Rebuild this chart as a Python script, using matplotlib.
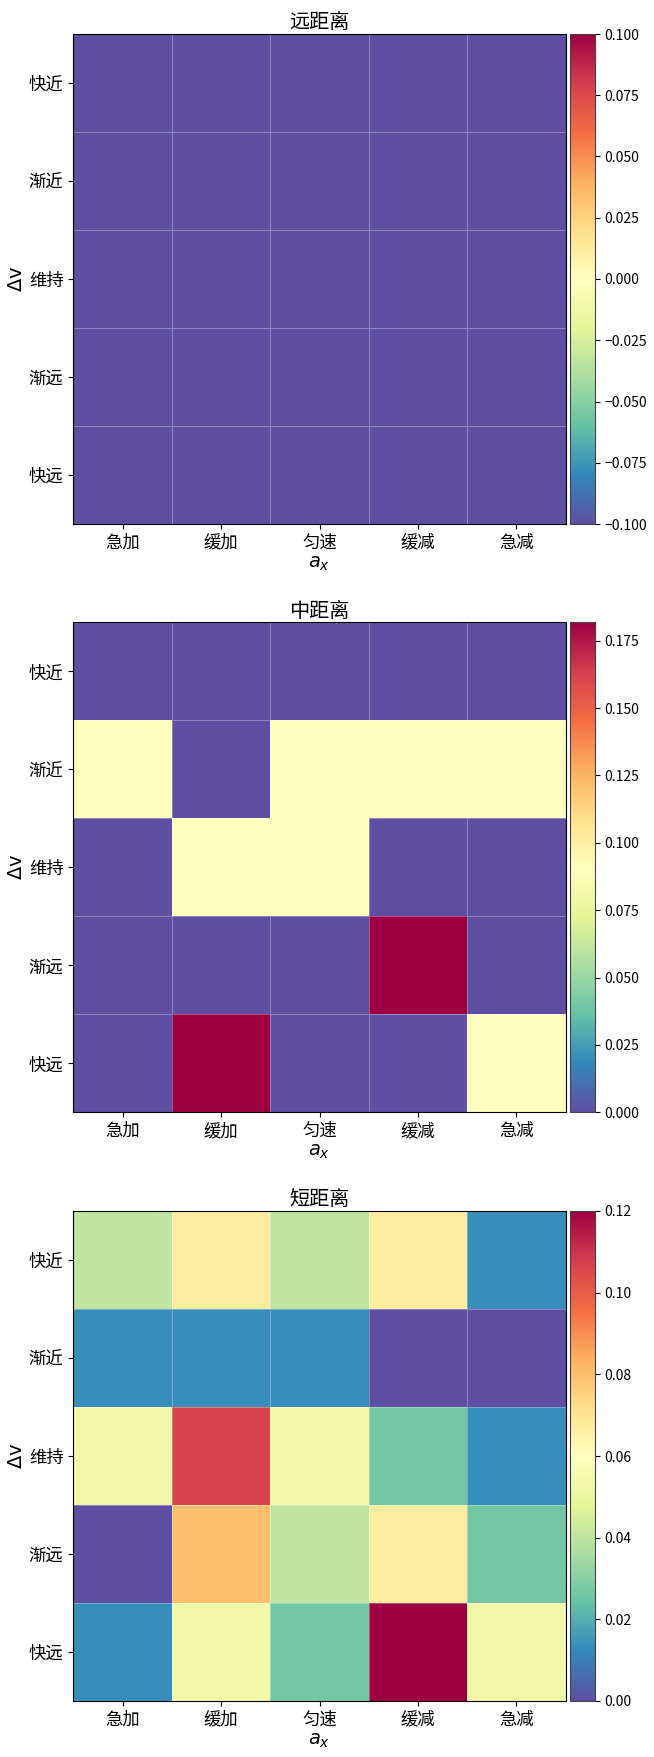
import numpy as np
import matplotlib
matplotlib.use("Agg")
import matplotlib.pyplot as plt
from matplotlib.colors import Normalize
from matplotlib.cm import ScalarMappable

plt.rcParams['font.family'] = ['Noto Sans CJK SC', 'DejaVu Sans']
plt.rcParams['axes.unicode_minus'] = True

titles = ["远距离", "中距离", "短距离"]
x_labels = ["急加", "缓加", "匀速", "缓减", "急减"]
y_labels = ["快近", "渐近", "维持", "渐远", "快远"]

far_vals = np.zeros((5, 5))
mid_vals = np.array([
    [0, 0, 0, 0, 0],
    [1, 0, 1, 1, 1],
    [0, 1, 1, 0, 0],
    [0, 0, 0, 2, 0],
    [0, 2, 0, 0, 1],
]) / 11.0
short_vals = np.array([
    [3, 5, 3, 5, 1],
    [1, 1, 1, 0, 0],
    [4, 8, 4, 2, 1],
    [0, 6, 3, 5, 2],
    [1, 4, 2, 9, 4],
]) / 75.0

datasets = [far_vals, mid_vals, short_vals]

W, H = 654, 1757
fig = plt.figure(figsize=(W / 100, H / 100), dpi=100)

ax_left = 73.3
ax_w = 492.4
ax_h = 490.0
tops = [34.0, 622.3, 1211.0]
cb_left = 570.0
cb_w = 25.0

for data, title, top in zip(datasets, titles, tops):
    ax = fig.add_axes([ax_left / W, 1 - (top + ax_h) / H, ax_w / W, ax_h / H])
    cax = fig.add_axes([cb_left / W, 1 - (top + ax_h) / H, cb_w / W, ax_h / H])
    norm = Normalize(vmin=data.min(), vmax=data.max())
    mesh = ax.pcolormesh(data, cmap='Spectral_r', norm=norm,
                         edgecolors=(1, 1, 1, 0.3), linewidth=0.6)
    ax.set_xlim(0, 5)
    ax.set_ylim(5, 0)
    ax.set_xticks(np.arange(5) + 0.5)
    ax.set_xticklabels(x_labels, fontsize=12.5)
    ax.set_yticks(np.arange(5) + 0.5)
    ax.set_yticklabels(y_labels, fontsize=12.5)
    ax.set_xlabel(r"$a_x$", fontsize=14, labelpad=0)
    ax.set_ylabel(r"$\Delta$v", fontsize=14, labelpad=2, family='DejaVu Sans')
    ax.set_title(title, fontsize=14.5, pad=4)
    sm = ScalarMappable(norm=Normalize(vmin=data.min(), vmax=data.max()),
                        cmap='Spectral_r')
    cb = fig.colorbar(sm, cax=cax)
    cb.ax.tick_params(labelsize=10)
    cb.outline.set_edgecolor('#444444')

fig.savefig("out.png", dpi=100)
